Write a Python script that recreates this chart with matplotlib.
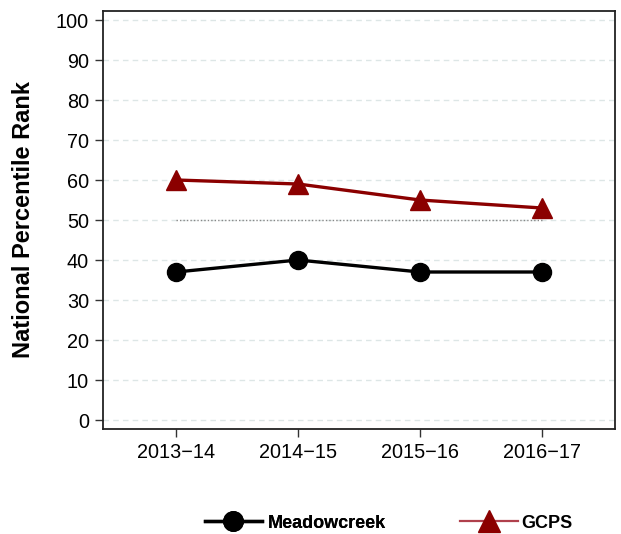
import matplotlib
matplotlib.use("Agg")
import matplotlib.pyplot as plt
from matplotlib.lines import Line2D

# School years and national percentile ranks
years = ["2013\u221214", "2014\u221215", "2015\u221216", "2016\u221217"]
meadowcreek = [37, 40, 37, 37]
gcps = [60, 59, 55, 53]
national_median = 50

plt.rcParams["font.family"] = ["Liberation Sans", "DejaVu Sans"]

W, H = 621, 534
fig = plt.figure(figsize=(W / 100, H / 100), dpi=100)
ax = fig.add_axes([103 / W, 1 - 429 / H, 512 / W, 418 / H])

x = list(range(len(years)))

for v in range(0, 101, 10):
    ax.axhline(v, color="#dde6e6", linewidth=1.0, linestyle=(0, (4, 3)), zorder=0)

ax.plot([x[0], x[-1]], [national_median, national_median], color="#888888",
        linewidth=1.0, linestyle=(0, (1, 1.5)), zorder=1)

ax.plot(x, gcps, color="#8b0000", linewidth=2.4, marker="^", markersize=14,
        zorder=3)
ax.plot(x, meadowcreek, color="black", linewidth=2.4, marker="o", markersize=13,
        zorder=3)

ax.set_xlim(-0.6, 3.6)
ax.set_ylim(-2.25, 102.25)
ax.set_xticks(x)
ax.set_xticklabels(years)
ax.set_yticks(range(0, 101, 10))
ax.tick_params(axis="both", labelsize=14.3, length=6, width=1.0, direction="out",
               color="#333333", pad=4)
for side in ax.spines.values():
    side.set_linewidth(1.3)
    side.set_color("#222222")

ax.set_ylabel("National Percentile Rank", fontsize=17, fontweight="bold")
ax.yaxis.set_label_coords(-0.133, 0.5)

# legend entries placed side by side under the plot
legend_font = {"weight": "bold", "size": 13}
leg1 = fig.legend(
    [Line2D([], [], color="black", linewidth=2.4, marker="o", markersize=14)],
    ["Meadowcreek"], loc="center left", bbox_to_anchor=(205 / W, 1 - 523 / H),
    frameon=False, prop=legend_font, borderpad=0, borderaxespad=0,
    handlelength=3.15, handletextpad=0.33)
fig.add_artist(leg1)
fig.legend(
    [Line2D([], [], color="#b0404c", linewidth=1.6, marker="^", markersize=16,
            markerfacecolor="#8b0000", markeredgecolor="#8b0000")],
    ["GCPS"], loc="center left", bbox_to_anchor=(460 / W, 1 - 523 / H),
    frameon=False, prop=legend_font, borderpad=0, borderaxespad=0,
    handlelength=3.2, handletextpad=0.22)

fig.savefig("out.png", dpi=100)
